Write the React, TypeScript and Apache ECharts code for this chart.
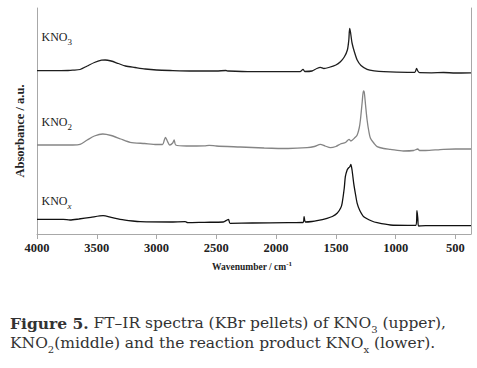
import React, { useEffect, useRef } from "react";
import * as echarts from "echarts";

// Tick labels of the wavenumber axis (cm-1)
const xTicks = [4000, 3500, 3000, 2500, 2000, 1500, 1000, 500];

// KNO3 (upper trace) — wavenumber / absorbance (a.u., stacked offset)
const kno3Wn = [4000, 3850, 3740, 3700, 3640, 3580, 3520, 3460, 3430, 3380, 3320, 3260, 3180, 3095, 3000, 2886, 2700, 2500, 2420, 2400, 2200, 1800, 1775, 1760, 1700, 1660, 1630, 1600, 1560, 1500, 1462, 1430, 1404, 1392, 1385, 1378, 1365, 1345, 1322, 1290, 1239, 1180, 1100, 900, 840, 825, 815, 800, 700, 600, 500, 370];
const kno3Abs = [163.3, 163.3, 163.5, 163.8, 164.5, 168, 171.5, 173.8, 174, 173, 170.5, 168, 166.5, 165, 164, 163.5, 163, 163, 163.5, 163, 162.3, 162.3, 164.7, 162.5, 163, 165.5, 166.7, 165.5, 166.5, 169, 172.3, 177, 184, 194, 205.7, 202, 191, 182, 174, 168.5, 164.7, 163.2, 162.3, 161.7, 161.7, 165.7, 163, 161.3, 161.2, 161.5, 161, 161.2];

// KNO2 (middle trace)
const kno2Wn = [4000, 3700, 3640, 3580, 3520, 3450, 3380, 3300, 3221, 3100, 3000, 2950, 2935, 2925, 2910, 2890, 2865, 2853, 2840, 2750, 2600, 2560, 2500, 2300, 2100, 1900, 1741, 1680, 1630, 1590, 1546, 1500, 1462, 1420, 1390, 1375, 1340, 1322, 1305, 1295, 1280, 1270, 1263, 1252, 1239, 1225, 1211, 1180, 1155, 1100, 1044, 935, 850, 815, 800, 750, 650, 600, 500, 370];
const kno2Abs = [89, 89, 89.7, 94, 98, 100, 98.5, 95, 91.7, 90.5, 89.5, 89.5, 94, 96.7, 93, 89, 91, 94, 89, 88, 88.2, 88.7, 88, 87, 86, 85.5, 86.3, 87.5, 89.7, 88, 86.3, 87.5, 90, 91.5, 94.7, 93, 96.5, 99, 106, 114, 132, 143, 142, 129, 114, 103, 95.7, 90.5, 87.3, 85.5, 84.7, 83, 83.5, 85, 83.5, 83.5, 84.2, 84.7, 85, 85];

// KNOx (lower trace, reaction product)
const knoxWn = [4000, 3780, 3724, 3650, 3550, 3447, 3380, 3305, 3200, 3137, 2886, 2760, 2740, 2600, 2442, 2410, 2398, 2385, 2200, 1900, 1775, 1766, 1755, 1700, 1658, 1574, 1530, 1490, 1460, 1448, 1430, 1421, 1406, 1395, 1385, 1375, 1365, 1351, 1335, 1322, 1300, 1267, 1200, 1155, 1044, 900, 830, 822, 815, 808, 750, 370];
const knoxAbs = [14.7, 14.7, 14, 15, 16.7, 18.3, 16.7, 14.7, 13, 12.3, 12, 12.4, 11.4, 11.7, 12, 14, 14.7, 10.7, 11, 11.3, 11.5, 17.3, 12, 12.5, 13.3, 15.7, 17.5, 20.7, 26, 30.7, 46, 57.3, 64, 66, 67, 69.5, 64, 50.7, 39, 30.7, 23.5, 17.3, 13, 11.3, 9, 8.7, 8.7, 23.3, 16, 8, 8.3, 8.3];

const seriesNames = ["KNO3", "KNO2", "KNOx"];
const seriesColors = ["#1e1e1e", "#858585", "#111111"];

const zip = (w: number[], a: number[]) => w.map((x, i) => [x, a[i]]);

export default function App() {
  const ref = useRef<HTMLDivElement>(null);
  useEffect(() => {
    if (!ref.current) return;
    const chart = echarts.init(ref.current, null, { renderer: "svg" });
    const serif = "'Liberation Serif', 'Times New Roman', serif";
    const capSerif = "'DejaVu Serif', serif";
    const axisGray = "#a8a8a8";
    const subStyle = { fontSize: 9, fontFamily: serif, fill: "#222", padding: [10, 0, 0, 0], lineHeight: 10 };
    const labelStyle = (text: string, italicSub = false) => ({
      text,
      fontSize: 12,
      fontFamily: serif,
      fill: "#222",
      lineHeight: 12,
      verticalAlign: "middle",
      rich: {
        s: italicSub ? { ...subStyle, fontStyle: "italic" } : subStyle,
      },
    });
    const capSub = { fontSize: 10, fontFamily: capSerif, fill: "#333", padding: [13, 0, 0, 0], lineHeight: 10 };
    const yAxisBase = {
      type: "value",
      min: 0,
      max: 226,
      axisLine: { show: true, onZero: false, lineStyle: { color: axisGray, width: 1 } },
      axisTick: { show: false },
      axisLabel: { show: false },
      splitLine: { show: false },
    };
    const datas = [zip(kno3Wn, kno3Abs), zip(kno2Wn, kno2Abs), zip(knoxWn, knoxAbs)];
    chart.setOption({
      animation: false,
      backgroundColor: "#ffffff",
      grid: { left: 37, right: 6, top: 8, bottom: 134 },
      xAxis: {
        type: "value",
        inverse: true,
        min: 370,
        max: 4000,
        axisLine: { show: true, onZero: false, lineStyle: { color: axisGray, width: 1 } },
        axisTick: { show: true, customValues: xTicks, length: 5, lineStyle: { color: axisGray } },
        axisLabel: {
          customValues: xTicks,
          formatter: (v: number) => String(v),
          fontFamily: serif,
          fontWeight: "bold",
          fontSize: 12.5,
          color: "#222",
          margin: 7,
        },
        splitLine: { show: false },
      },
      yAxis: [
        { ...yAxisBase, position: "left" },
        { ...yAxisBase, position: "right" },
      ],
      series: datas.map((d, i) => ({
        name: seriesNames[i],
        type: "line",
        data: d,
        showSymbol: false,
        symbol: "none",
        smooth: 0.25,
        lineStyle: { color: seriesColors[i], width: 1.3 },
        itemStyle: { color: seriesColors[i] },
      })),
      graphic: [
        { type: "text", x: 41.5, y: 37, style: labelStyle("KNO{s|3}") },
        { type: "text", x: 41.5, y: 122, style: labelStyle("KNO{s|2}") },
        { type: "text", x: 41.5, y: 201, style: labelStyle("KNO{s|x}", true) },
        {
          type: "text",
          x: 20,
          y: 131,
          rotation: Math.PI / 2,
          style: {
            text: "Absorbance / a.u.",
            fontSize: 12.5,
            fontWeight: "bold",
            fontFamily: serif,
            fill: "#222",
            align: "center",
            verticalAlign: "middle",
          },
        },
        {
          type: "text",
          x: 252,
          y: 267,
          style: {
            text: "Wavenumber / cm{sup|-1}",
            fontSize: 9.5,
            fontWeight: "bold",
            fontFamily: serif,
            fill: "#222",
            align: "center",
            verticalAlign: "middle",
            lineHeight: 10,
            rich: {
              sup: { fontSize: 7, fontWeight: "bold", fontFamily: serif, fill: "#222", padding: [0, 0, 6, 0], lineHeight: 7 },
            },
          },
        },
        {
          type: "text",
          x: 10,
          y: 323,
          style: {
            text: "{b|Figure 5.} FT–IR spectra (KBr pellets) of KNO{s|3} (upper),",
            fontSize: 15.5,
            fontFamily: capSerif,
            fill: "#333",
            lineHeight: 17,
            verticalAlign: "middle",
            rich: {
              b: { fontSize: 15.5, fontWeight: "bold", fontFamily: capSerif, fill: "#333", lineHeight: 17 },
              s: capSub,
            },
          },
        },
        {
          type: "text",
          x: 10,
          y: 342.5,
          style: {
            text: "KNO{s|2}(middle) and the reaction product KNO{s|x} (lower).",
            fontSize: 15.5,
            fontFamily: capSerif,
            fill: "#333",
            lineHeight: 17,
            verticalAlign: "middle",
            rich: {
              s: capSub,
            },
          },
        },
      ],
    });
    return () => chart.dispose();
  }, []);
  return (
    <div
      ref={ref}
      style={{ position: "fixed", left: 0, top: 0, width: 477, height: 368, background: "#fff" }}
    />
  );
}
